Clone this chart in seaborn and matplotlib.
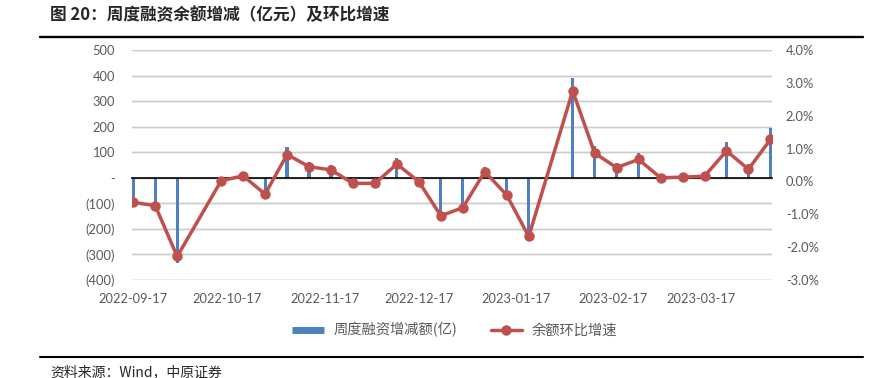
import numpy as np
import pandas as pd
import seaborn as sns
import matplotlib.pyplot as plt
import matplotlib.dates as mdates
from matplotlib.lines import Line2D
from matplotlib.ticker import FuncFormatter, FixedLocator

# weekly data (holiday weeks 2022-10-08 and 2023-01-28 missing)
dates = ['2022-09-17', '2022-09-24', '2022-10-01', '2022-10-15', '2022-10-22', '2022-10-29',
         '2022-11-05', '2022-11-12', '2022-11-19', '2022-11-26', '2022-12-03', '2022-12-10',
         '2022-12-17', '2022-12-24', '2022-12-31', '2023-01-07', '2023-01-14', '2023-01-21',
         '2023-02-04', '2023-02-11', '2023-02-18', '2023-02-25', '2023-03-04', '2023-03-11',
         '2023-03-18', '2023-03-25', '2023-04-01', '2023-04-08']
change = [-93, -105, -335, 2, 24, -55, 119, 63, 50, -9, -9, 76, -2, -150, -115, 41, -65, -230,
          392, 124, 57, 96, 16, 19, 23, 141, 54, 194]
growth = [-0.64, -0.74, -2.29, 0.02, 0.17, -0.39, 0.82, 0.45, 0.35, -0.06, -0.06, 0.53, -0.01,
          -1.05, -0.80, 0.30, -0.42, -1.68, 2.76, 0.86, 0.42, 0.67, 0.11, 0.13, 0.16, 0.93, 0.37, 1.28]
tick_dates = ['2022-09-17', '2022-10-17', '2022-11-17', '2022-12-17', '2023-01-17', '2023-02-17', '2023-03-17']
left_ticks = [-400, -300, -200, -100, 0, 100, 200, 300, 400, 500]
right_ticks = [-3, -2, -1, 0, 1, 2, 3, 4]

bar_label = '周度融资增减额(亿)'
line_label = '余额环比增速'
title = '图 20：周度融资余额增减（亿元）及环比增速'
source = '资料来源：Wind，中原证券'

blue = '#4F81BD'
red = '#C0504D'
grey = '#595959'
grid_grey = '#CCCCCC'
cjk = ['Noto Sans CJK SC', 'DejaVu Sans']

sns.set_style('white')
plt.rcParams['font.family'] = ['Lato', 'Noto Sans CJK SC', 'DejaVu Sans']

df = pd.DataFrame({'date': pd.to_datetime(dates), 'change': change, 'growth': growth})
df['x'] = mdates.date2num(df['date'])

fig = plt.figure(figsize=(8.87, 3.78), dpi=100)
ax = fig.add_axes([131.7 / 887, 1 - 280 / 378, (772 - 131.7) / 887, 230 / 378])

sns.barplot(data=df, x='x', y='change', native_scale=True, width=1 / 7, color=blue,
            saturation=1, errorbar=None, linewidth=0, ax=ax, zorder=2)

ax2 = ax.twinx()
sns.lineplot(data=df, x='x', y='growth', ax=ax2, color=red, lw=2.5, marker='o',
             markersize=7.5, markeredgewidth=0, sort=False)

# x axis: category line at zero, labels pushed down to the bottom
ax.set_xlim(mdates.date2num(pd.Timestamp(dates[0])) - 0.5,
            mdates.date2num(pd.Timestamp(dates[-1])) + 0.5)
ax.xaxis.set_major_locator(FixedLocator(mdates.date2num(pd.to_datetime(tick_dates))))
ax.xaxis.set_major_formatter(mdates.DateFormatter('%Y-%m-%d'))
ax.spines['bottom'].set_position(('data', 0))
ax.spines['bottom'].set_color('black')
ax.spines['bottom'].set_linewidth(1.2)
ax.spines['bottom'].set_zorder(3)
ax.tick_params(axis='x', direction='out', length=3, width=1, color='black',
               pad=80, labelsize=9.3, labelcolor=grey)

# left axis
ax.set_ylim(-401, 501)
ax.yaxis.set_major_locator(FixedLocator(left_ticks))
ax.yaxis.set_major_formatter(FuncFormatter(
    lambda v, p: '-' if abs(v) < 1e-9 else (f'({abs(v):.0f})' if v < 0 else f'{v:.0f}')))
ax.tick_params(axis='y', length=0, pad=12, labelsize=9.3, labelcolor=grey)
ax.yaxis.grid(True, color=grid_grey, linewidth=1.0)
ax.xaxis.grid(False)
# horizontal gridlines at the left-axis ticks
for t in left_ticks:
    ax.axhline(t, color=grid_grey, lw=1.0, zorder=0.6)

# right axis
ax2.set_ylim(-3 - 7 / 900, 4 + 7 / 900)
ax2.yaxis.set_major_locator(FixedLocator(right_ticks))
ax2.yaxis.set_major_formatter(FuncFormatter(lambda v, p: f'{v:.1f}%'))
ax2.tick_params(axis='y', length=0, pad=10, labelsize=9.3, labelcolor=grey)
ax2.grid(False)

for a in (ax, ax2):
    a.set_xlabel('')
    a.set_ylabel('')
    for s in ['top', 'left', 'right']:
        a.spines[s].set_visible(False)
ax2.spines['bottom'].set_visible(False)

# legend
handles = [Line2D([], [], color=blue, lw=5, solid_capstyle='butt'),
           Line2D([], [], color=red, lw=2.5, marker='o', markersize=7.5, markeredgewidth=0)]
ax2.legend(handles, [bar_label, line_label], loc='center', bbox_to_anchor=(455 / 887, 1 - 330 / 378),
           bbox_transform=fig.transFigure, ncol=2, frameon=False, handlelength=2.2,
           handletextpad=0.7, columnspacing=2.3, numpoints=1,
           prop={'family': cjk, 'size': 10.3}, labelcolor=grey)

# title, rules and source
fig.text(50 / 887, 1 - 15 / 378, title, fontsize=12, fontweight='bold', va='center', family=cjk)
fig.add_artist(Line2D([40 / 887, 863 / 887], [1 - 37 / 378] * 2, color='black', lw=1.7))
fig.add_artist(Line2D([40 / 887, 863 / 887], [1 - 357 / 378] * 2, color='black', lw=1.5))
fig.text(50 / 887, 1 - 372 / 378, source, fontsize=10, va='center', family=cjk)

fig.savefig('out.png', dpi=100)
